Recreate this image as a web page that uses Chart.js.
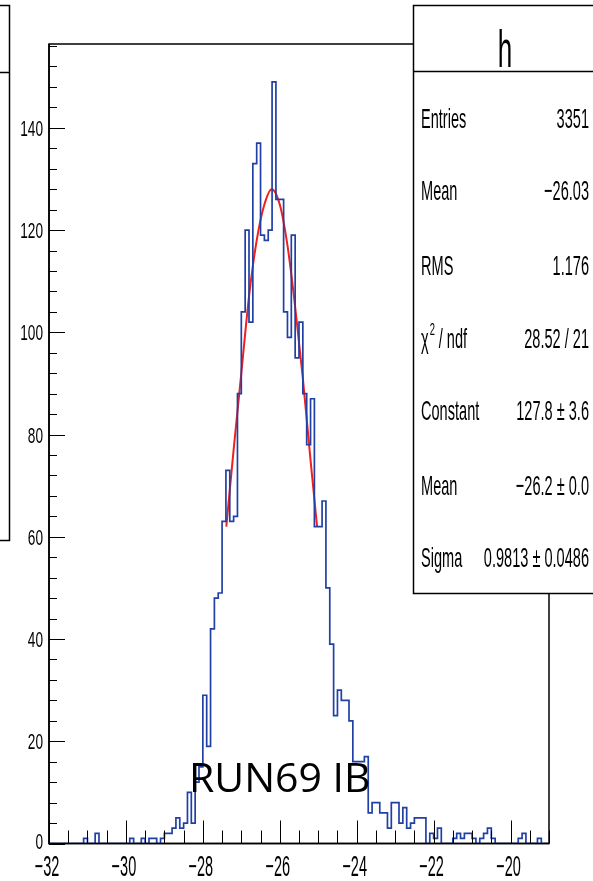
<!DOCTYPE html>
<html>
<head>
<meta charset="utf-8">
<script src="https://cdn.jsdelivr.net/npm/chart.js@4.4.1/dist/chart.umd.min.js"></script>
<style>
    html, body { margin: 0; padding: 0; background: #ffffff; }
    canvas { display: block; }
</style>
</head>
<body>
<canvas id="histCanvas" width="593" height="881"></canvas>
<script>
(function () {
    'use strict';

    // histogram "h": 130 bins of width 0.1 starting at -32
    var BIN_LOW = -32;
    var BIN_WIDTH = 0.1;
    var X_MIN = -32;
    var X_MAX = -19;
    var Y_MAX = 156.4;

    // bin contents (10 bins per row)
    var COUNTS = [
        0, 0, 0, 0, 0, 0, 0, 0, 0, 1,
        0, 0, 2, 0, 0, 0, 0, 0, 0, 0,
        0, 1, 0, 0, 1, 0, 1, 1, 0, 1,
        2, 2, 3, 5, 3, 4, 10, 4, 12, 15,
        29, 19, 42, 48, 49, 63, 73, 63, 64, 88,
        104, 120, 102, 133, 137, 119, 118, 120, 149, 126,
        126, 104, 99, 119, 95, 102, 88, 78, 87, 62,
        62, 67, 50, 39, 25, 30, 28, 28, 24, 16,
        16, 16, 17, 6, 8, 8, 6, 6, 3, 8,
        8, 4, 7, 3, 4, 5, 5, 5, 0, 2,
        1, 3, 0, 0, 0, 1, 2, 1, 2, 2,
        1, 0, 1, 2, 3, 1, 0, 0, 0, 0,
        0, 0, 1, 2, 0, 0, 0, 1, 0, 0
    ];

    // red gaussian fit
    var FIT_X = [-27.39, -27.2, -27.0, -26.8, -26.6, -26.4, -26.21, -26.0, -25.8, -25.6, -25.4, -25.2, -25.03];
    var FIT_Y = [62, 77, 92, 107, 118, 125, 128, 125, 117, 105, 91, 75, 62];

    // axis labels
    var X_TICKS = [-32, -30, -28, -26, -24, -22, -20];
    var Y_TICKS = [0, 20, 40, 60, 80, 100, 120, 140];
    var X_MINOR_STEP = 0.5;
    var Y_MINOR_STEP = 4;

    // stats box
    var STATS_TITLE = 'h';
    var STAT_NAMES = ['Entries', 'Mean', 'RMS', 'chi2', 'Constant', 'Mean', 'Sigma'];
    var STAT_VALUES = ['3351', '\u221226.03', '1.176', '28.52 / 21', '127.8 \u00b1 3.6', '\u221226.2 \u00b1 0.0', '0.9813 \u00b1 0.0486'];
    var STAT_ROW_Y = [118, 190, 265, 338, 410, 485, 557];

    var RUN_LABEL = 'RUN69 IB';

    var HIST_COLOR = '#2040a6';
    var FIT_COLOR = '#f0201c';
    var FONT = '"Liberation Sans", Arial, sans-serif';

    function fmtTick(v) {
        return v < 0 ? '\u2212' + Math.abs(v) : String(v);
    }

    // ROOT fonts in the picture are squeezed horizontally
    function narrowText(ctx, text, x, y, sx, align) {
        ctx.save();
        ctx.translate(x, y);
        ctx.scale(sx, 1);
        ctx.textAlign = align;
        ctx.textBaseline = 'alphabetic';
        ctx.fillText(text, 0, 0);
        ctx.restore();
        return ctx.measureText(text).width * sx;
    }

    var rootFramePlugin = {
        id: 'rootFrame',
        beforeDatasetsDraw: function (chart) {
            var ctx = chart.ctx;
            var a = chart.chartArea;
            ctx.save();
            ctx.strokeStyle = '#000';
            ctx.lineWidth = 1.5;
            ctx.strokeRect(a.left, a.top, a.right - a.left, a.bottom - a.top);
            ctx.restore();
        },
        afterDatasetsDraw: function (chart) {
            var ctx = chart.ctx;
            var a = chart.chartArea;
            var xs = chart.scales.x;
            var ys = chart.scales.y;
            var v, px, py, i;

            ctx.save();
            ctx.strokeStyle = '#000';
            ctx.lineWidth = 1;

            // x axis ticks, pointing into the frame
            for (v = X_MIN; v <= X_MAX + 1e-9; v += X_MINOR_STEP) {
                px = Math.round(xs.getPixelForValue(v)) + 0.5;
                var isMajor = X_TICKS.indexOf(Math.round(v * 10) / 10) >= 0;
                ctx.beginPath();
                ctx.moveTo(px, a.bottom);
                ctx.lineTo(px, a.bottom - (isMajor ? 23 : 13));
                ctx.stroke();
            }
            // y axis ticks
            for (v = 0; v <= Y_MAX; v += Y_MINOR_STEP) {
                py = Math.round(ys.getPixelForValue(v)) + 0.5;
                var isMajorY = Y_TICKS.indexOf(v) >= 0;
                ctx.beginPath();
                ctx.moveTo(a.left, py);
                ctx.lineTo(a.left + (isMajorY ? 16 : 8), py);
                ctx.stroke();
            }
            // axis lines on top of the histogram
            ctx.lineWidth = 1.5;
            ctx.beginPath();
            ctx.moveTo(a.left, a.top);
            ctx.lineTo(a.left, a.bottom);
            ctx.lineTo(a.right, a.bottom);
            ctx.stroke();

            // tick labels
            ctx.fillStyle = '#000';
            ctx.font = '29px ' + FONT;
            for (i = 0; i < X_TICKS.length; i++) {
                px = xs.getPixelForValue(X_TICKS[i]);
                narrowText(ctx, fmtTick(X_TICKS[i]), px - 2, 876, 0.5, 'center');
            }
            ctx.font = '22px ' + FONT;
            for (i = 0; i < Y_TICKS.length; i++) {
                py = ys.getPixelForValue(Y_TICKS[i]);
                if (Y_TICKS[i] === 0) py -= 3;
                narrowText(ctx, fmtTick(Y_TICKS[i]), 43, py + 8, 0.62, 'right');
            }
            ctx.restore();
        },
        afterDraw: function (chart) {
            var ctx = chart.ctx;
            ctx.save();
            ctx.strokeStyle = '#000';
            ctx.lineWidth = 1.5;

            // cut-off box on the far left
            ctx.beginPath();
            ctx.moveTo(0, 5.5);
            ctx.lineTo(9.5, 5.5);
            ctx.lineTo(9.5, 540.5);
            ctx.lineTo(0, 540.5);
            ctx.moveTo(0, 72.5);
            ctx.lineTo(9.5, 72.5);
            ctx.stroke();

            // stats box
            var bx = 413.5, by = 5.5, bw = 200, bh = 588;
            ctx.fillStyle = '#fff';
            ctx.fillRect(bx, by, bw, bh);
            ctx.strokeRect(bx, by, bw, bh);
            ctx.beginPath();
            ctx.moveTo(bx, 71.5);
            ctx.lineTo(bx + bw, 71.5);
            ctx.stroke();

            ctx.fillStyle = '#000';
            ctx.font = '52px ' + FONT;
            narrowText(ctx, STATS_TITLE, 505, 67, 0.5, 'center');

            ctx.font = '28px ' + FONT;
            for (var i = 0; i < STAT_NAMES.length; i++) {
                var y = STAT_ROW_Y[i] + 10;
                if (STAT_NAMES[i] === 'chi2') {
                    var w = narrowText(ctx, '\u03c7', 421, y, 0.52, 'left');
                    ctx.font = '17px ' + FONT;
                    narrowText(ctx, '2', 421 + w + 1, y - 13, 0.55, 'left');
                    ctx.font = '28px ' + FONT;
                    narrowText(ctx, ' / ndf', 421 + w + 6, y, 0.52, 'left');
                } else {
                    narrowText(ctx, STAT_NAMES[i], 421, y, 0.52, 'left');
                }
                narrowText(ctx, STAT_VALUES[i], 589, y, 0.52, 'right');
            }

            // annotation added on top of the plot
            ctx.font = '41px "Open Sans", Lato, sans-serif';
            ctx.textAlign = 'left';
            ctx.textBaseline = 'alphabetic';
            ctx.fillText(RUN_LABEL, 189, 792);
            ctx.restore();
        }
    };

    var histPoints = [];
    for (var i = 0; i < COUNTS.length; i++) {
        histPoints.push({ x: BIN_LOW + i * BIN_WIDTH, y: COUNTS[i] });
    }
    histPoints.push({ x: BIN_LOW + COUNTS.length * BIN_WIDTH, y: COUNTS[COUNTS.length - 1] });

    var fitPoints = [];
    for (var j = 0; j < FIT_X.length; j++) {
        fitPoints.push({ x: FIT_X[j], y: FIT_Y[j] });
    }

    var ctx = document.getElementById('histCanvas').getContext('2d');
    new Chart(ctx, {
        type: 'scatter',
        data: {
            datasets: [{
                label: 'h',
                data: histPoints,
                showLine: true,
                stepped: true,
                borderColor: HIST_COLOR,
                borderWidth: 1.7,
                pointRadius: 0,
                fill: false
            }, {
                label: 'fit',
                data: fitPoints,
                showLine: true,
                cubicInterpolationMode: 'monotone',
                borderColor: FIT_COLOR,
                borderWidth: 2,
                pointRadius: 0,
                fill: false
            }]
        },
        options: {
            responsive: false,
            animation: false,
            devicePixelRatio: 1,
            layout: { padding: { left: 49, top: 44, right: 44, bottom: 37.5 } },
            scales: {
                x: { type: 'linear', min: X_MIN, max: X_MAX, display: false },
                y: { type: 'linear', min: 0, max: Y_MAX, display: false }
            },
            plugins: {
                legend: { display: false },
                tooltip: { enabled: false }
            }
        },
        plugins: [rootFramePlugin]
    });
})();
</script>
</body>
</html>
